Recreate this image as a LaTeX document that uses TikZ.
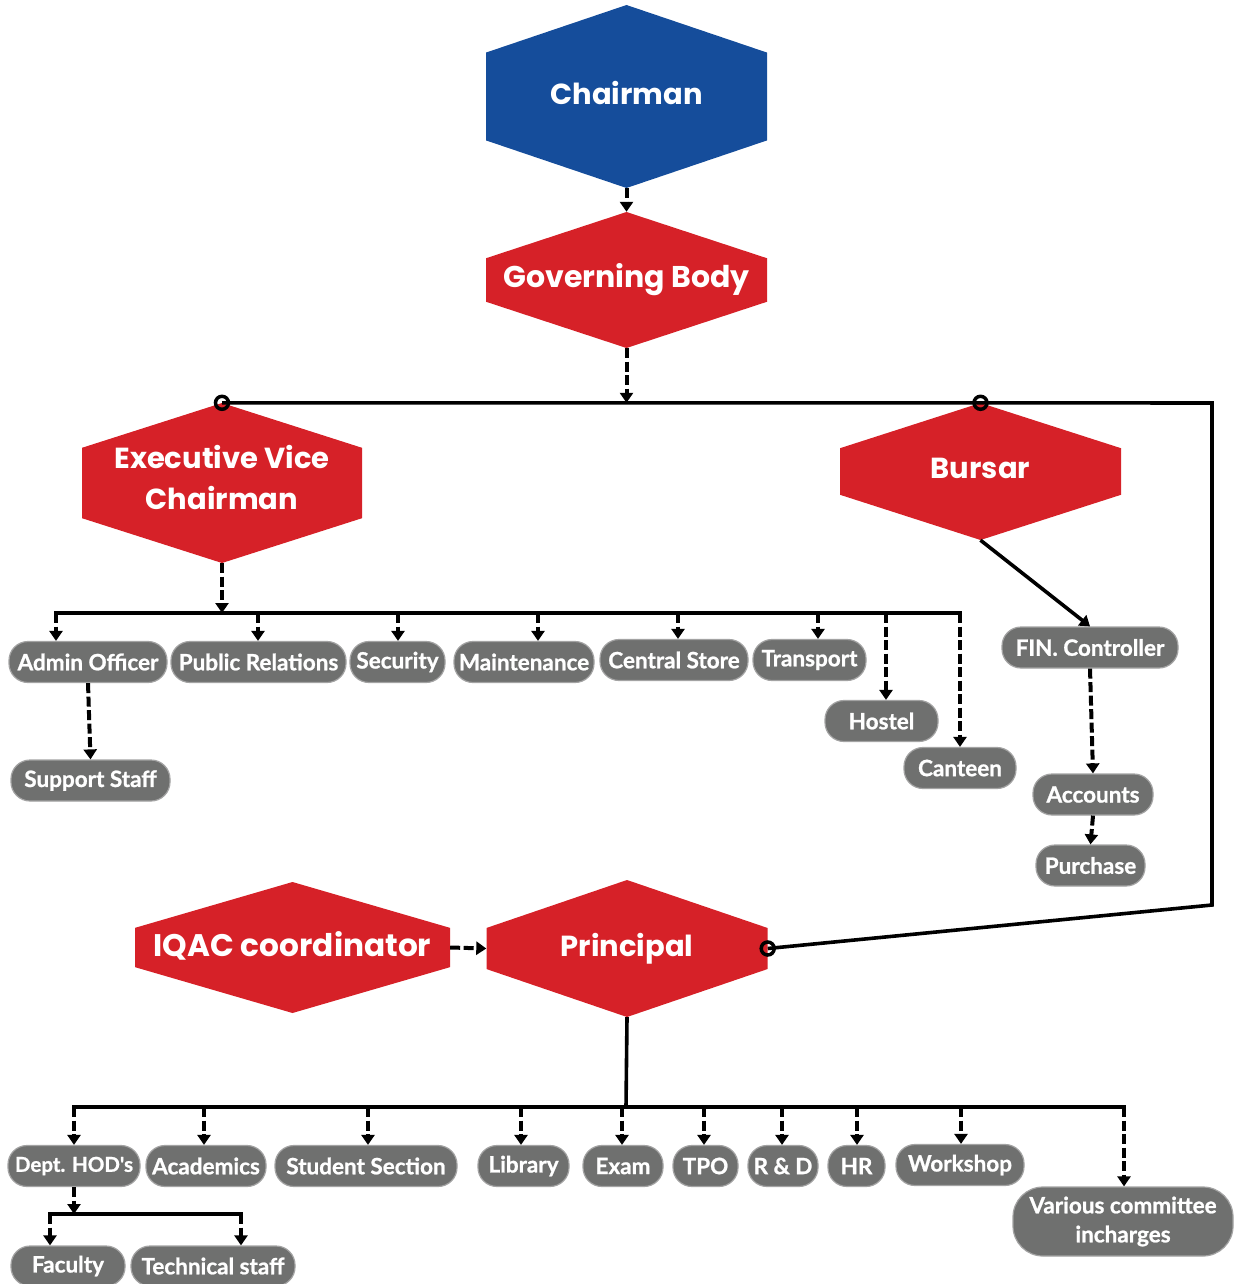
\documentclass[tikz,border=0pt]{standalone}
\usepackage{fontspec}
\newfontfamily\hexfont{Poppins}
\newfontfamily\pillfont{Lato}[BoldFeatures={FakeBold=1}]
\usetikzlibrary{calc,arrows.meta}
\definecolor{hexred}{HTML}{D62128}
\definecolor{hexblue}{HTML}{154D9B}
\definecolor{pillgray}{HTML}{6F706F}
\definecolor{pillrim}{HTML}{A3A3A3}
\tikzset{
  hexa/.style 2 args={shape=rectangle, inner sep=0pt, text=white, align=center,
    font=\hexfont\bfseries\fontsize{29}{41}\selectfont,
    path picture={\fill[#1]
      (path picture bounding box.north)
      -- ($(path picture bounding box.north east)!#2!(path picture bounding box.south east)$)
      -- ($(path picture bounding box.south east)!#2!(path picture bounding box.north east)$)
      -- (path picture bounding box.south)
      -- ($(path picture bounding box.south west)!#2!(path picture bounding box.north west)$)
      -- ($(path picture bounding box.north west)!#2!(path picture bounding box.south west)$)
      -- cycle;}},
  pill/.style={shape=rectangle, rounded corners=19pt, fill=pillgray, draw=pillrim,
    line width=1.2pt, text=white, inner sep=0pt, minimum height=41pt, align=center,
    font=\pillfont\bfseries\fontsize{22.5}{28}\selectfont},
  link/.style={line width=3.6pt, draw=black},
  darr/.style={link, line width=4pt, dash pattern=on 10pt off 3.5pt, -{Triangle[width=13pt,length=10pt]}},
  sarr/.style={link, -{Triangle[width=13pt,length=10pt]}},
  ring/.style={line width=3.5pt, draw=black},
}
\begin{document}
\begin{tikzpicture}[x=1pt,y=-1pt]
\useasboundingbox (0,0) rectangle (1236,1284);

% hexagon boxes
\node[hexa={hexblue}{0.26}, minimum width=281pt, minimum height=183pt, text depth=8pt] (chair) at (626.5,96.5) {Chairman};
\node[hexa={hexred}{0.34}, minimum width=281pt, minimum height=136pt, text depth=10pt, font=\hexfont\bfseries\fontsize{30}{41}\selectfont] (gov) at (626.5,280) {Governing Body};
\node[hexa={hexred}{0.28}, minimum width=280pt, minimum height=160pt, text depth=12pt] (evc) at (222,483) {Executive Vice\\Chairman};
\node[hexa={hexred}{0.33}, minimum width=281pt, minimum height=137pt, text depth=6pt] (bursar) at (980.5,471.5) {Bursar};
\node[hexa={hexred}{0.35}, minimum width=315pt, minimum height=131pt, text depth=7pt, font=\hexfont\bfseries\fontsize{31.2}{41}\selectfont] (iqac) at (292.5,947.5) {IQAC coordinator};
\node[hexa={hexred}{0.35}, minimum width=281pt, minimum height=137pt] (principal) at (627,948.5) {Principal};

% offices under the executive vice chairman
\node[pill, minimum width=158pt] (admin) at (88,662) {Admin Officer};
\node[pill, minimum width=175pt] (pr) at (258.5,662) {Public Relations};
\node[pill, minimum width=95pt] (security) at (397.5,662) {Security};
\node[pill, minimum width=140pt] (maint) at (524,662) {Maintenance};
\node[pill, minimum width=148pt] (cstore) at (674,660) {Central Store};
\node[pill, minimum width=113pt] (transport) at (809.5,660) {Transport};
\node[pill, minimum width=113pt] (hostel) at (881.5,721) {Hostel};
\node[pill, minimum width=112pt] (canteen) at (960,768) {Canteen};
\node[pill, minimum width=159pt] (support) at (90.5,780.5) {Support Staff};

% finance branch
\node[pill, minimum width=176pt] (fin) at (1090,647.5) {FIN. Controller};
\node[pill, minimum width=120pt] (accounts) at (1093,794.5) {Accounts};
\node[pill, minimum width=109pt] (purchase) at (1090.5,865.5) {Purchase};

% sections under the principal
\node[pill, minimum width=132pt, font=\pillfont\bfseries\fontsize{20.5}{28}\selectfont] (hod) at (74,1166) {Dept. HOD's};
\node[pill, minimum width=120pt] (acad) at (206,1166) {Academics};
\node[pill, minimum width=182pt] (student) at (366,1166) {Student Section};
\node[pill, minimum width=91pt] (library) at (523.5,1166) {Library};
\node[pill, minimum width=80pt] (exam) at (623,1166) {Exam};
\node[pill, minimum width=65pt] (tpo) at (705.5,1166) {TPO};
\node[pill, minimum width=70pt] (rd) at (783,1166) {R \& D};
\node[pill, minimum width=57pt] (hr) at (856.5,1166) {HR};
\node[pill, minimum width=128pt] (workshop) at (960,1165) {Workshop};
\node[pill, minimum width=220pt, minimum height=69pt, rounded corners=30pt] (various) at (1123,1221.5) {Various committee\\[1pt]incharges};
\node[pill, minimum width=114pt, minimum height=40pt] (faculty) at (68,1266) {Faculty};
\node[pill, minimum width=164pt, minimum height=40pt] (tech) at (213,1266) {Technical staff};

% top of the hierarchy
\draw[darr] (chair.south) -- (gov.north);
\coordinate (tbR) at (1212,403);
\coordinate (tbB) at (1212,905);
\draw[link] (evc.north) -- (bursar.north) -- (tbR) -- (tbB) -- (principal.east);
\draw[darr] (gov.south) -- (gov.south |- evc.north);
\draw[ring] (evc.north) circle (6.5pt);
\draw[ring] (bursar.north) circle (6.5pt);
\draw[ring] (principal.east) circle (6.5pt);

% executive vice chairman bus
\coordinate (eb) at (222,613);
\coordinate (e1) at (56,613);
\coordinate (e2) at (258,613);
\coordinate (e3) at (398,613);
\coordinate (e4) at (538,613);
\coordinate (e5) at (678,613);
\coordinate (e6) at (818,613);
\coordinate (e7) at (886,613);
\coordinate (e8) at (960,613);
\draw[darr] (evc.south) -- (eb);
\draw[link] ($(e1)+(-2,0)$) -- ($(e8)+(2,0)$);
\draw[darr] (e1) -- (e1 |- admin.north);
\draw[darr] (e2) -- (e2 |- pr.north);
\draw[darr] (e3) -- (e3 |- security.north);
\draw[darr] (e4) -- (e4 |- maint.north);
\draw[darr] (e5) -- (e5 |- cstore.north);
\draw[darr] (e6) -- (e6 |- transport.north);
\draw[darr] (e7) -- (e7 |- hostel.north);
\draw[darr] (e8) -- (e8 |- canteen.north);
\draw[darr] (admin.south) -- (support.north);

% finance chain
\draw[sarr] (bursar.south) -- (fin.north);
\draw[darr] (fin.south) -- (accounts.north);
\draw[darr] (accounts.south) -- (purchase.north);

% IQAC to principal
\draw[darr] (iqac.east) -- (principal.west);

% principal bus
\coordinate (pb) at (626,1107);
\coordinate (p1) at (74,1107);
\coordinate (p2) at (204,1107);
\coordinate (p3) at (368,1107);
\coordinate (p4) at (521,1107);
\coordinate (p5) at (622,1107);
\coordinate (p6) at (704,1107);
\coordinate (p7) at (782,1107);
\coordinate (p8) at (857,1107);
\coordinate (p9) at (961,1107);
\coordinate (p10) at (1124,1107);
\draw[link] (principal.south) -- (pb);
\draw[link] ($(p1)+(-2,0)$) -- ($(p10)+(2,0)$);
\draw[darr] (p1) -- (p1 |- hod.north);
\draw[darr] (p2) -- (p2 |- acad.north);
\draw[darr] (p3) -- (p3 |- student.north);
\draw[darr] (p4) -- (p4 |- library.north);
\draw[darr] (p5) -- (p5 |- exam.north);
\draw[darr] (p6) -- (p6 |- tpo.north);
\draw[darr] (p7) -- (p7 |- rd.north);
\draw[darr] (p8) -- (p8 |- hr.north);
\draw[darr] (p9) -- (p9 |- workshop.north);
\draw[darr] (p10) -- (p10 |- various.north);

% department HOD bus
\coordinate (h1) at (50,1214);
\coordinate (h2) at (241,1214);
\draw[darr] (hod.south) -- (hod.south |- h1);
\draw[link] ($(h1)+(-2,0)$) -- ($(h2)+(2,0)$);
\draw[darr] (h1) -- (h1 |- faculty.north);
\draw[darr] (h2) -- (h2 |- tech.north);
\end{tikzpicture}
\end{document}
